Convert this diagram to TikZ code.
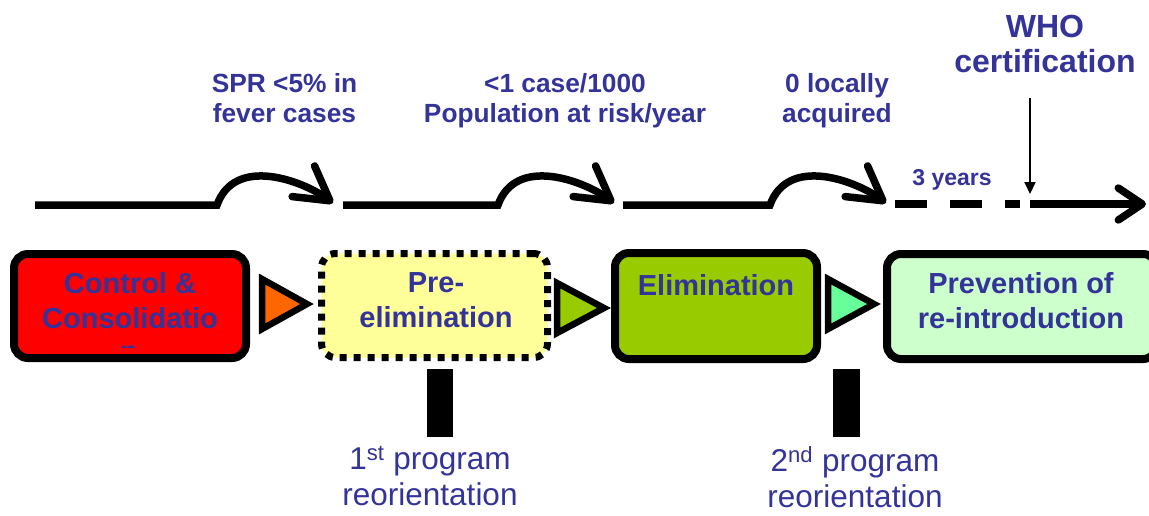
\documentclass[tikz,border=0pt]{standalone}
\usepackage{fontspec}
\setmainfont{Liberation Sans}
\usetikzlibrary{arrows.meta,calc}
\definecolor{txtblue}{HTML}{333399}
\definecolor{cred}{HTML}{FF0000}
\definecolor{corange}{HTML}{FF6600}
\definecolor{cyellow}{HTML}{FFFF99}
\definecolor{cgreen}{HTML}{99CC00}
\definecolor{cteal}{HTML}{66FF99}
\definecolor{cmint}{HTML}{CCFFCC}
\begin{document}
\begin{tikzpicture}[x=1pt,y=-1pt,
  phasebox/.style={draw=black, line width=8pt, rounded corners=14pt, inner sep=0pt, outer sep=0pt},
  dotbox/.style={draw=black, line width=7pt, rounded corners=14pt, dash pattern=on 7pt off 7pt, inner sep=0pt, outer sep=0pt},
  tri/.style={draw=black, line width=6.5pt, line join=miter},
  boxtext/.style={font=\bfseries\fontsize{29}{34.5}\selectfont, text=txtblue, align=center, inner sep=0pt, anchor=north},
  toptext/.style={font=\bfseries\fontsize{26.3}{30}\selectfont, text=txtblue, align=center, inner sep=0pt, anchor=north},
  bottext/.style={font=\fontsize{31.5}{36.5}\selectfont, text=txtblue, align=center, inner sep=0pt, anchor=north},
  timeline/.style={draw=black, line width=7.5pt},
  bendarrow/.style={timeline, -{Straight Barb[round, length=33pt, width=38pt]}},
  bar/.style={fill=black}
]
\useasboundingbox (0,0) rectangle (1149,515);

% phase boxes
\node[phasebox, fill=cred, minimum width=232pt, minimum height=104pt] (ctrl) at (130,306) {};
\node[dotbox, fill=cyellow, minimum width=226pt, minimum height=104pt] (pre) at (434.5,305.5) {};
\node[phasebox, fill=cgreen, minimum width=202pt, minimum height=106pt] (elim) at (716,306) {};
\node[phasebox, fill=cmint, minimum width=270pt, minimum height=105pt] (prev) at (1022,306.5) {};

% triangles between boxes
\draw[tri, fill=corange] (262,279) -- (262,329) -- (307,304) -- cycle;
\draw[tri, fill=cgreen] (557,283) -- (557,333) -- (604,308) -- cycle;
\draw[tri, fill=cteal] (828,279) -- (828,329) -- (874,304) -- cycle;

% box texts
\node[boxtext] (ctrlt) at (130,272.5) {Control \&\\Consolidatio};
\begin{scope}
  \clip (115,343) rectangle (145,347.5);
  \node[boxtext] (ctrln) at (129,345.5) {n};
\end{scope}
\node[boxtext] (pret) at (436,272.5) {Pre-\\elimination};
\node[boxtext] (elimt) at (716,274.5) {Elimination};
\node[boxtext] (prevt) at (1021,272.5) {Prevention of\\re-introduction};

% timeline
\coordinate (a0) at (35,205);
\coordinate (a1) at (217,205);
\coordinate (a2) at (333,203);
\coordinate (b0) at (343,205);
\coordinate (b1) at (498,205);
\coordinate (b2) at (614,203);
\coordinate (c0) at (623,205);
\coordinate (c1) at (770,205);
\coordinate (c2) at (886,203);
\coordinate (d0) at (895,204);
\coordinate (d1) at (1020,204);
\coordinate (e0) at (1030,204);
\coordinate (e1) at (1146,204);

\draw[bendarrow] (a0) -- (a1) .. controls ($(a1)+(18,-50)$) and ($(a1)+(86,-24)$) .. (a2);
\draw[bendarrow] (b0) -- (b1) .. controls ($(b1)+(18,-50)$) and ($(b1)+(86,-24)$) .. (b2);
\draw[bendarrow] (c0) -- (c1) .. controls ($(c1)+(18,-50)$) and ($(c1)+(86,-24)$) .. (c2);
\draw[timeline, dash pattern=on 32pt off 23pt] (d0) -- (d1);
\draw[timeline, -{Straight Barb[round, length=24pt, width=32pt]}] (e0) -- (e1);

% top labels
\node[toptext] (spr) at (284.5,73) {SPR <5\% in\\fever cases};
\node[toptext] (case) at (565,73) {<1 case/1000\\Population at risk/year};
\node[toptext] (zero) at (837,73) {0 locally\\acquired};
\node[font=\bfseries\fontsize{32}{35}\selectfont, text=txtblue, align=center, inner sep=0pt, anchor=north] (who) at (1045,15) {WHO\\certification};
\node[font=\bfseries\fontsize{23}{25}\selectfont, text=txtblue, inner sep=0pt, anchor=north] (yrs) at (952,169) {3 years};
\coordinate (whoend) at (1030,194);
\draw[line width=2pt, -{Triangle[length=12pt, width=11pt]}] (1030,98) -- (whoend);

% reorientation bars
\fill[bar] (427,369) rectangle (453,437);
\fill[bar] (833,369) rectangle (860,437);
\node[bottext] (r1) at (430,446) {1\textsuperscript{st} program\\reorientation};
\node[bottext] (r2) at (855,446) {2\textsuperscript{nd} program\\reorientation};
\end{tikzpicture}
\end{document}
